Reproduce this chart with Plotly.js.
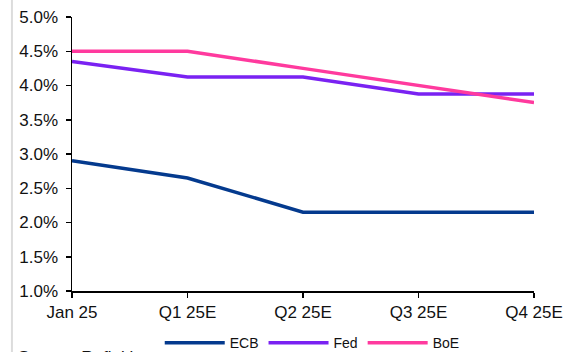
<!DOCTYPE html>
<html>
<head>
<meta charset="utf-8">
<script src="https://cdn.plot.ly/plotly-3.0.1.min.js"></script>
<style>
  html, body { margin: 0; padding: 0; background: #fff; }
  #chart { width: 567px; height: 352px; }
</style>
</head>
<body>
<div id="chart"></div>
<script>
// Policy rate path by quarter (%)
const periods = ["Jan 25", "Q1 25E", "Q2 25E", "Q3 25E", "Q4 25E"];
const ecbRates = [2.90, 2.65, 2.15, 2.15, 2.15];
const fedRates = [4.35, 4.125, 4.125, 3.875, 3.875];
const boeRates = [4.50, 4.50, 4.25, 4.00, 3.75];
const seriesNames = ["ECB", "Fed", "BoE"];
const yTicks = [1.0, 1.5, 2.0, 2.5, 3.0, 3.5, 4.0, 4.5, 5.0];

const xIdx = periods.map((_, i) => i);
const colors = ["#043a8e", "#7a22f2", "#ff3a9e"];
const series = [ecbRates, fedRates, boeRates];

const traces = series.map((vals, k) => ({
  type: "scatter",
  mode: "lines",
  name: seriesNames[k],
  x: xIdx,
  y: vals,
  line: { color: colors[k], width: 3.5 },
  hoverinfo: "skip"
}));

const fam = "Liberation Sans, Arial, sans-serif";
const tickFont = { family: fam, size: 17, color: "#111" };

const layout = {
  width: 567,
  height: 352,
  margin: { l: 72, r: 33, t: 17, b: 61, autoexpand: false },
  paper_bgcolor: "#fff",
  plot_bgcolor: "#fff",
  font: { family: fam, size: 14, color: "#111" },
  showlegend: true,
  legend: {
    orientation: "h",
    x: 0.52, xanchor: "center",
    y: -0.19, yanchor: "middle",
    font: { family: fam, size: 14, color: "#111" },
    itemwidth: 60,
    tracegroupgap: 0,
    bgcolor: "rgba(0,0,0,0)"
  },
  xaxis: {
    range: [0, 4],
    tickmode: "array",
    tickvals: xIdx,
    ticktext: periods,
    showgrid: false,
    zeroline: false,
    showline: true,
    linecolor: "#000",
    linewidth: 1.5,
    ticks: "outside",
    ticklen: 5,
    tickwidth: 1.5,
    tickcolor: "#000",
    tickfont: tickFont,
    fixedrange: true
  },
  yaxis: {
    range: [1, 5],
    tickmode: "array",
    tickvals: yTicks,
    ticktext: yTicks.map(v => v.toFixed(1) + "%"),
    showgrid: false,
    zeroline: false,
    showline: true,
    linecolor: "#000",
    linewidth: 1.5,
    ticks: "outside",
    ticklen: 5,
    tickwidth: 1.5,
    tickcolor: "#000",
    ticklabelstandoff: 4,
    tickfont: tickFont,
    fixedrange: true
  },
  shapes: [{
    type: "line",
    xref: "paper", yref: "paper",
    x0: -0.13, x1: -0.13, y0: -0.3, y1: 1.1,
    line: { color: "#dcdcdc", width: 2 }
  }],
  annotations: [{
    text: "Source: Refinitiv",
    xref: "paper", yref: "paper",
    x: -0.122, xanchor: "left",
    y: -0.2, yanchor: "top",
    yshift: 0,
    showarrow: false,
    font: { family: fam, size: 17, color: "#111" }
  }]
};

Plotly.newPlot("chart", traces, layout, { displayModeBar: false, staticPlot: true });
</script>
</body>
</html>
